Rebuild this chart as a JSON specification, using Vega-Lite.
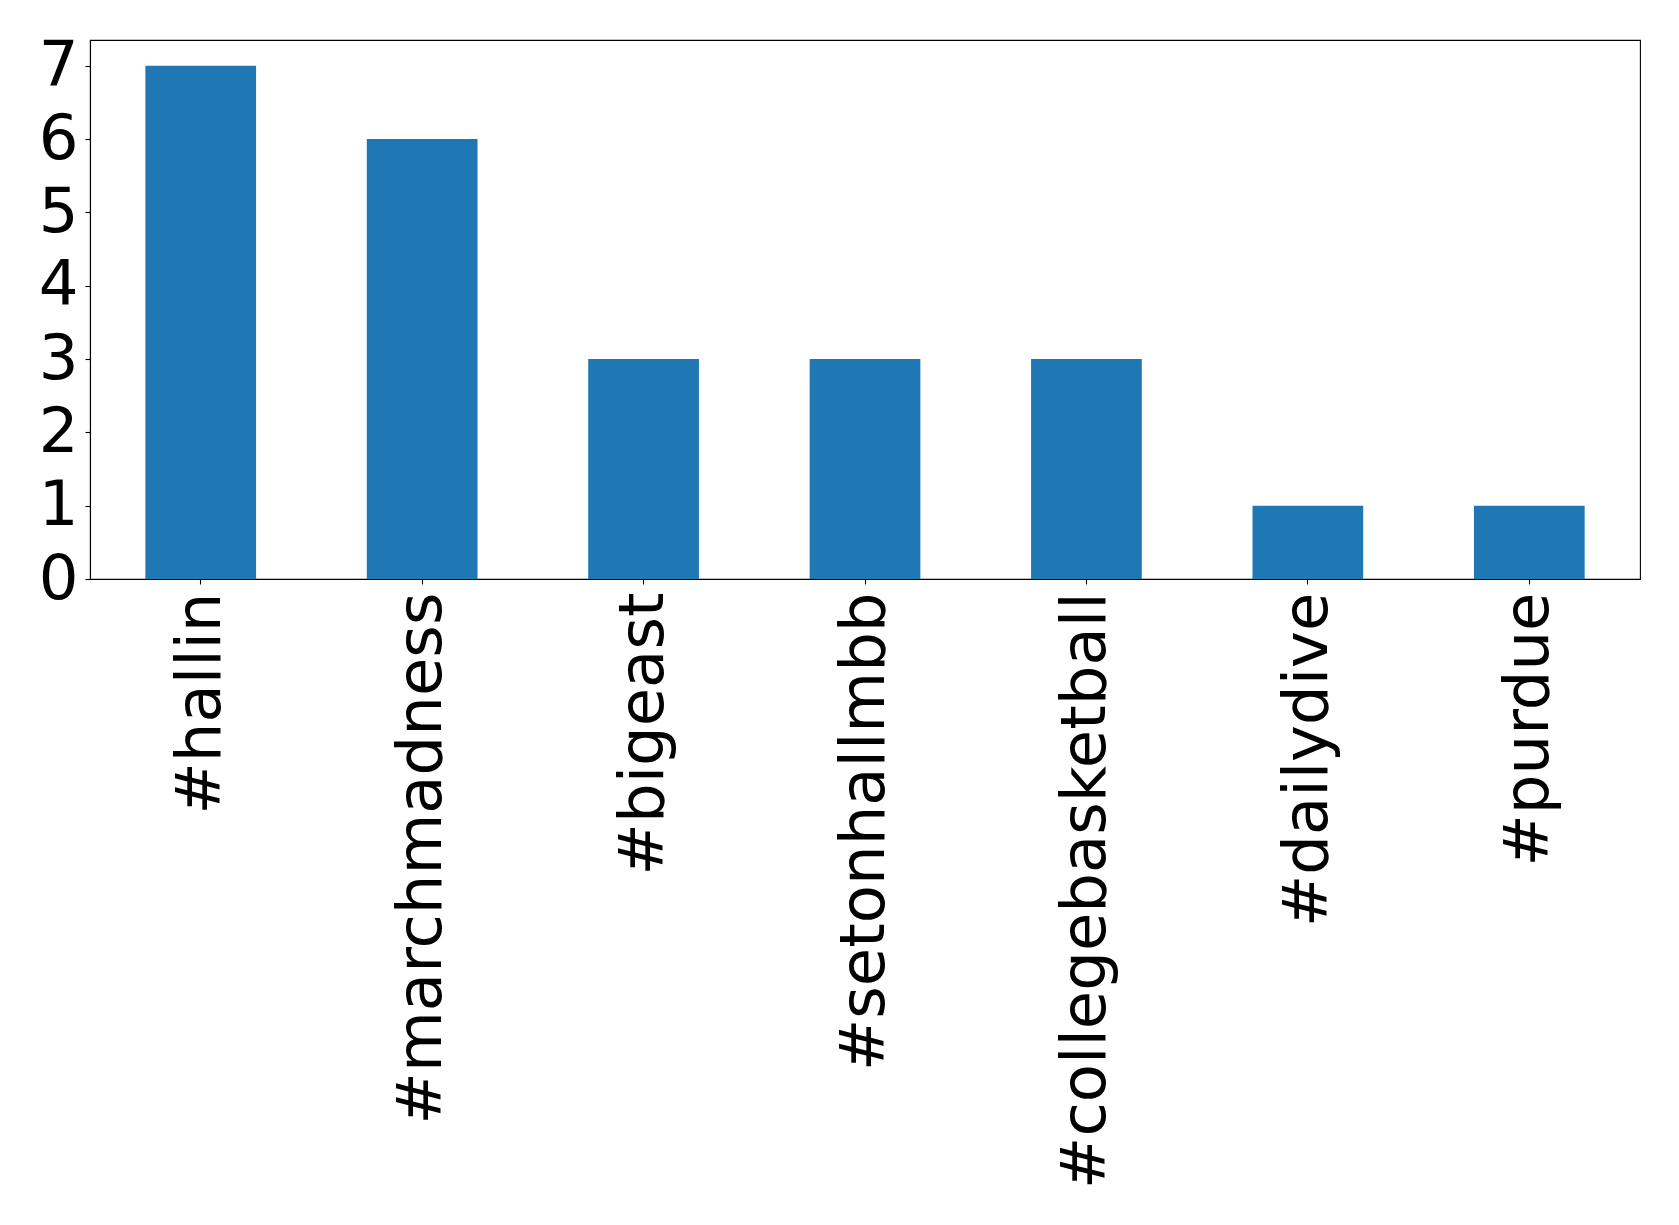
{
  "$schema": "https://vega.github.io/schema/vega-lite/v6.json",
  "width": 1550,
  "height": 539,
  "autosize": {"type": "none"},
  "padding": {"left": 90, "top": 40, "right": 39, "bottom": 646},
  "background": "white",
  "config": {
    "font": "DejaVu Sans",
    "view": {"stroke": "black", "strokeWidth": 1.1},
    "axis": {"domainColor": "black", "tickColor": "black", "labelColor": "black", "grid": false, "tickSize": 5, "domainWidth": 1.1, "tickWidth": 1.1}
  },
  "data": {
    "values": [
      {"tag": "#hallin", "count": 7},
      {"tag": "#marchmadness", "count": 6},
      {"tag": "#bigeast", "count": 3},
      {"tag": "#setonhallmbb", "count": 3},
      {"tag": "#collegebasketball", "count": 3},
      {"tag": "#dailydive", "count": 1},
      {"tag": "#purdue", "count": 1}
    ]
  },
  "mark": {"type": "bar", "color": "#1f77b4"},
  "encoding": {
    "x": {
      "field": "tag", "type": "nominal", "sort": null,
      "scale": {"paddingInner": 0.5, "paddingOuter": 0.25},
      "axis": {"title": null, "labelAngle": -90, "labelFontSize": 62.5, "labelPadding": 8, "labelAlign": "right", "labelBaseline": "middle", "labelLimit": 0}
    },
    "y": {
      "field": "count", "type": "quantitative",
      "scale": {"domain": [0, 7.35], "nice": false, "zero": true},
      "axis": {"title": null, "values": [0,1,2,3,4,5,6,7], "labelFontSize": 62.5, "labelPadding": 7, "labelBaseline": "middle"}
    }
  }
}
